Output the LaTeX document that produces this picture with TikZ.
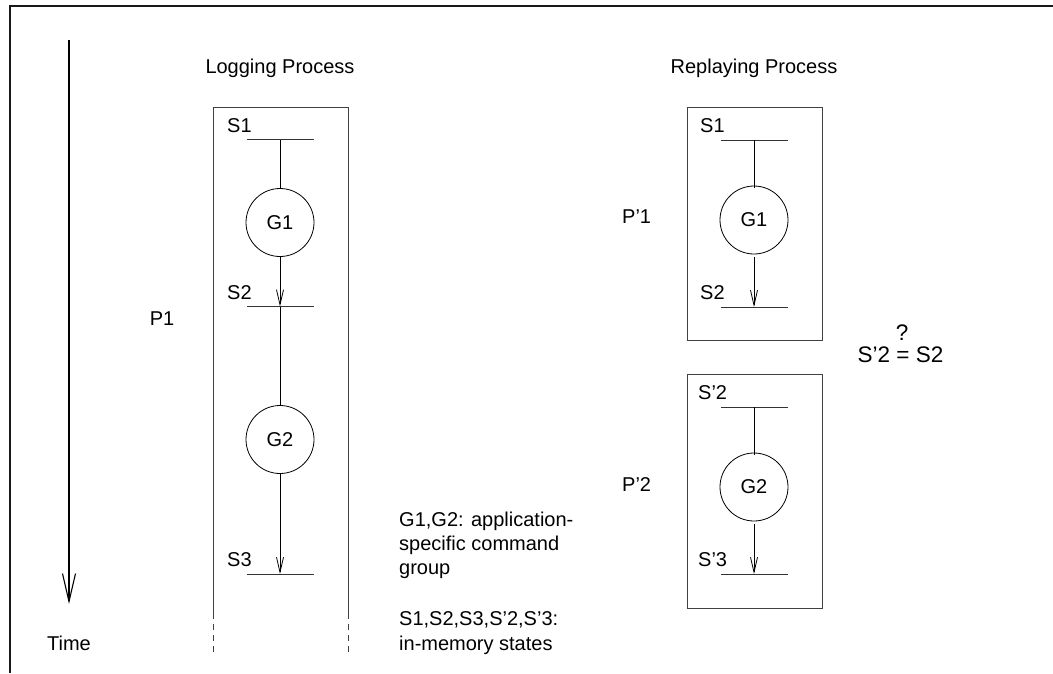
\documentclass[tikz,border=0pt]{standalone}
\usepackage{fontspec}
\setmainfont{Liberation Sans}
\usetikzlibrary{arrows.meta}
\begin{document}
\begin{tikzpicture}[x=1pt,y=-1pt,
    font=\fontsize{20}{24}\selectfont,
    frame/.style={line width=1.8pt, black!90},
    procbox/.style={draw=black!75, line width=0.9pt},
    statebar/.style={draw=black!80, line width=0.9pt},
    group/.style={circle, draw, line width=0.8pt, minimum size=68pt, inner sep=0pt},
    flow/.style={line width=0.8pt, -{Straight Barb[length=15pt,width=7pt,line width=0.8pt]}},
    link/.style={line width=0.8pt},
    lbl/.style={inner sep=0pt, anchor=base west},
    ctr/.style={inner sep=0pt, anchor=base},
    big/.style={font=\fontsize{22.5}{27}\selectfont}]
  \useasboundingbox (0,0) rectangle (1053,673);

  % page frame (top and left edges)
  \draw[frame] (9,6) -- (1053,6);
  \draw[frame] (10,6) -- (10,673);

  % time axis
  \coordinate (t0) at (69,40);
  \coordinate (t1) at (69,604);
  \draw[line width=1.1pt, -{Straight Barb[length=28pt,width=13pt,line width=1.1pt]}] (t0) -- (t1);
  \node[ctr] (time) at (69,650) {Time};

  % ---------------- logging process ----------------
  \node[ctr] (logtitle) at (280,73) {Logging Process};
  \draw[procbox] (213,613) -- (213,107) -- (348,107) -- (348,613);
  \draw[procbox, dash pattern=on 6pt off 5pt] (213,613) -- (213,656);
  \draw[procbox, dash pattern=on 6pt off 5pt] (348,613) -- (348,656);
  \node[ctr] (p1) at (162,325) {P1};

  \coordinate (ls1) at (280,139.5);
  \coordinate (ls2) at (280,306.5);
  \coordinate (ls3) at (280,574);
  \draw[statebar] (247,139.5) -- (314,139.5);
  \draw[statebar] (247,306.5) -- (314,306.5);
  \draw[statebar] (247,574) -- (314,574);
  \node[lbl] (ls1l) at (227,132) {S1};
  \node[lbl] (ls2l) at (227,299) {S2};
  \node[lbl] (ls3l) at (227,566) {S3};

  \node[group] (lg1) at (280,222.5) {G1};
  \node[group] (lg2) at (280,439.5) {G2};

  \draw[link] (ls1) -- (lg1);
  \draw[flow] (lg1) -- (ls2);
  \draw[link] (ls2) -- (lg2);
  \draw[flow] (lg2) -- (ls3);

  % legend
  \node[lbl] (leg1) at (399,526) {G1,G2: application-};
  \node[lbl] (leg2) at (399,550) {specific command};
  \node[lbl] (leg3) at (399,574) {group};
  \node[lbl] (leg4) at (399,625) {S1,S2,S3,S’2,S’3:};
  \node[lbl] (leg5) at (399,650) {in-memory states};

  % ---------------- replaying process ----------------
  \node[ctr] (reptitle) at (754,73) {Replaying Process};

  % first replay
  \draw[procbox] (687,107) rectangle (822,340);
  \node[lbl] (pp1) at (622,223) {P’1};
  \coordinate (rs1) at (754,140);
  \coordinate (rs2) at (754,307);
  \draw[statebar] (721,140) -- (788,140);
  \draw[statebar] (721,307) -- (788,307);
  \node[lbl] (rs1l) at (700,132) {S1};
  \node[lbl] (rs2l) at (700,299) {S2};
  \node[group] (rg1) at (754,220) {G1};
  \draw[link] (rs1) -- ([yshift=-2pt]rg1.north);
  \draw[flow, shorten <=3pt] (rg1) -- (rs2);

  % comparison
  \node[ctr, big] (q) at (902,340) {?};
  \node[ctr, big] (cmp) at (900.5,362) {S’2 = S2};

  % second replay
  \draw[procbox] (687,374) rectangle (822,608);
  \node[lbl] (pp2) at (622,491) {P’2};
  \coordinate (rs2b) at (754,407);
  \coordinate (rs3) at (754,574);
  \draw[statebar] (721,407) -- (788,407);
  \draw[statebar] (721,574) -- (788,574);
  \node[lbl] (rs2bl) at (698,399) {S’2};
  \node[lbl] (rs3l) at (698,566) {S’3};
  \node[group] (rg2) at (754,487) {G2};
  \draw[link] (rs2b) -- ([yshift=-2pt]rg2.north);
  \draw[flow, shorten <=3pt] (rg2) -- (rs3);
\end{tikzpicture}
\end{document}
